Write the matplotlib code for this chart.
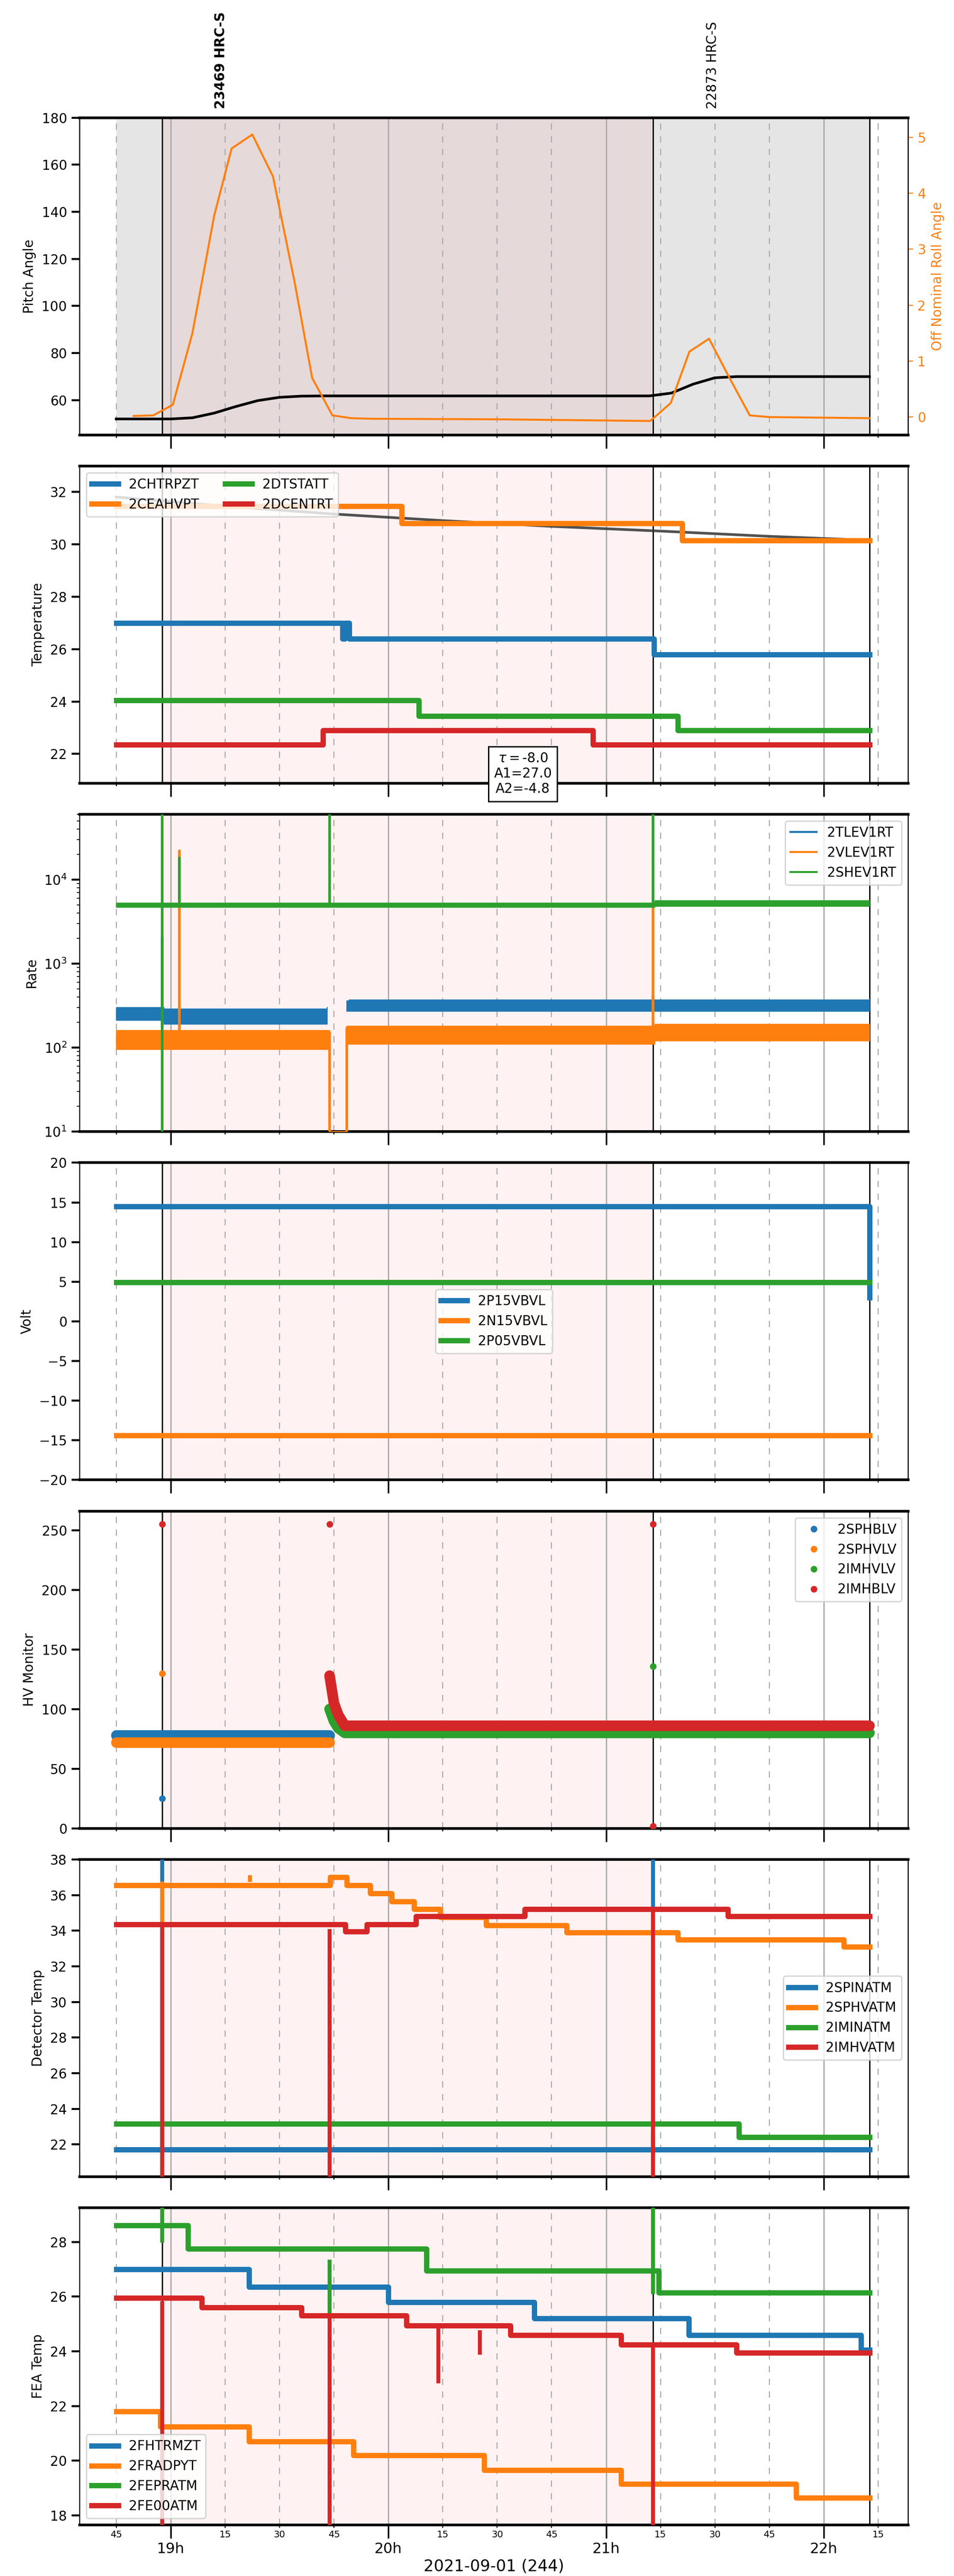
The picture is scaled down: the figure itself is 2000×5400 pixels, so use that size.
import numpy as np
import matplotlib
matplotlib.use("Agg")
import matplotlib.pyplot as plt
from matplotlib.ticker import FixedLocator, FuncFormatter

# times are decimal hours of 2021-09-01
t_start, t_end = 18.75, 22.21
obs_start = [18.962, 21.215]
obs_ids = ["23469 HRC-S", "22873 HRC-S"]
obs_text_x = [19.23, 21.49]
obs_hrc = [18.962, 21.215]          # pink band (HRC science)

# panel 1: pitch / roll
pitch_t = [18.75, 19.0, 19.1, 19.2, 19.3, 19.4, 19.5, 19.6, 19.7, 21.2, 21.3, 21.4, 21.5, 21.6, 22.21]
pitch_v = [52.0, 52.0, 52.5, 54.5, 57.3, 59.8, 61.2, 61.7, 61.8, 61.8, 63.0, 66.8, 69.5, 70.0, 70.0]
roll_t = [18.83, 18.92, 19.01, 19.10, 19.20, 19.28, 19.375, 19.47, 19.57, 19.65, 19.743, 19.83, 19.92,
          20.5, 21.203, 21.297, 21.383, 21.473, 21.567, 21.66, 21.75, 22.21]
roll_v = [0.02, 0.03, 0.22, 1.5, 3.6, 4.8, 5.05, 4.3, 2.4, 0.7, 0.03, -0.02, -0.03,
          -0.04, -0.07, 0.25, 1.17, 1.4, 0.7, 0.03, 0.0, -0.02]

# panel 2: temperatures (step series)
temp_names = ["2CHTRPZT", "2CEAHVPT", "2DTSTATT", "2DCENTRT"]
temp_t = [[18.75, 19.79, 19.80, 19.82, 21.22, 22.21],
          [18.75, 20.06, 21.35, 22.21],
          [18.75, 20.14, 21.33, 22.21],
          [18.75, 19.70, 20.94, 22.21]]
temp_v = [[27.0, 26.4, 27.0, 26.4, 25.8, 25.8],
          [31.45, 30.8, 30.15, 30.15],
          [24.05, 23.45, 22.9, 22.9],
          [22.35, 22.9, 22.35, 22.35]]
model_t = [18.75, 19.25, 19.75, 20.25, 20.75, 21.25, 21.75, 22.21]
model_v = [31.8, 31.45, 31.15, 30.9, 30.68, 30.5, 30.3, 30.15]

# panel 3: rates (level bands low/high)
rate_names = ["2TLEV1RT", "2VLEV1RT", "2SHEV1RT"]
rate_t = [18.75, 18.96, 18.97, 19.72, 19.73, 19.81, 19.82, 21.215, 21.225, 22.21]
rate_lo = [[210, 210, 190, 190, np.nan, 270, 270, 270, 270, 280],
           [95, 95, 95, 95, 10, 110, 110, 110, 120, 125],
           [4700, 4700, 4700, 4700, 4700, 4700, 4700, 4700, 4800, 4800]]
rate_hi = [[300, 300, 290, 300, np.nan, 360, 370, 370, 370, 380],
           [160, 160, 160, 160, 10, 180, 180, 180, 190, 190],
           [5300, 5300, 5300, 5300, 5300, 5300, 5300, 5300, 5600, 5600]]
rate_spk_t = [[18.962, 21.215], [19.04, 19.73, 19.81, 21.215], [18.962, 19.04, 19.73, 21.215]]
rate_spk_v = [[2000, 400], [22000, 10, 10, 5000], [60000, 18000, 60000, 60000]]
rate_spk_lo = [[180, 300], [100, 150, 170, 140], [10, 4900, 4900, 4900]]

# panel 4: voltages
volt_names = ["2P15VBVL", "2N15VBVL", "2P05VBVL"]
volt_t = [[18.75, 22.20, 22.21], [18.75, 22.21], [18.75, 22.21]]
volt_v = [[14.5, 14.5, 3.0], [-14.4, -14.4], [4.9, 4.9]]

# panel 5: HV monitor
hv_names = ["2SPHBLV", "2SPHVLV", "2IMHVLV", "2IMHBLV"]
hv_t = [[18.75, 19.73], [18.75, 19.73],
        [19.73, 19.75, 19.77, 19.80, 22.21], [19.73, 19.75, 19.77, 19.80, 22.21]]
hv_v = [[78, 78], [72, 72], [100, 90, 84, 80, 80], [128, 105, 95, 86, 86]]
hv_spk_t = [[18.962], [18.962], [21.215], [18.962, 19.73, 21.215, 21.215]]
hv_spk_v = [[25], [130], [136], [255, 255, 255, 2]]

# panel 6: detector temps
det_names = ["2SPINATM", "2SPHVATM", "2IMINATM", "2IMHVATM"]
det_t = [[18.75, 22.21],
         [18.75, 19.733, 19.81, 19.916, 20.014, 20.118, 20.239, 20.449, 20.82, 21.329, 22.093, 22.21],
         [18.75, 21.61, 22.21],
         [18.75, 19.803, 19.9, 20.126, 20.626, 21.56, 22.21]]
det_v = [[21.7, 21.7],
         [36.55, 37.0, 36.55, 36.1, 35.65, 35.2, 34.75, 34.3, 33.9, 33.5, 33.1, 33.1],
         [23.15, 22.4, 22.4],
         [34.35, 33.95, 34.35, 34.8, 35.2, 34.8, 34.8]]
det_spk = {0: [(18.962, 40), (21.215, 40)], 1: [(18.962, 34.4), (19.365, 37.0)],
           2: [(18.962, 19), (21.215, 19)], 3: [(18.962, 19), (19.73, 19), (21.215, 19)]}

# panel 7: FEA temps
fea_names = ["2FHTRMZT", "2FRADPYT", "2FEPRATM", "2FE00ATM"]
fea_t = [[18.75, 19.36, 20.0, 20.67, 21.38, 22.17, 22.21],
         [18.75, 18.952, 19.36, 19.84, 20.44, 21.07, 21.874, 22.21],
         [18.75, 19.08, 20.174, 21.242, 22.21],
         [18.75, 19.143, 19.60, 20.084, 20.56, 21.07, 21.60, 22.21]]
fea_v = [[27.0, 26.35, 25.8, 25.2, 24.6, 24.05, 24.05],
         [21.8, 21.25, 20.7, 20.2, 19.65, 19.15, 18.65, 18.65],
         [28.6, 27.75, 26.95, 26.15, 26.15],
         [25.95, 25.6, 25.3, 24.95, 24.6, 24.25, 23.95, 23.95]]
fea_spk = {2: [(18.962, 30), (19.73, 25.4), (21.215, 30)],
           3: [(18.962, 17), (19.73, 17), (21.215, 17), (20.23, 22.9), (20.42, 23.95)]}

C = ["#1f77b4", "#ff7f0e", "#2ca02c", "#d62728"]

fig, axes = plt.subplots(7, 1, figsize=(10, 27), dpi=200, sharex=True)
fig.subplots_adjust(left=0.0835, right=0.952, top=0.9543, bottom=0.0198, hspace=0.098)

major = [19, 20, 21, 22]
minor = [18.75, 19.25, 19.5, 19.75, 20.25, 20.5, 20.75, 21.25, 21.5, 21.75, 22.25]

for i, ax in enumerate(axes):
    ax.set_xlim(18.582, 22.388)
    ax.axvspan(obs_hrc[0], obs_hrc[1], color="red", alpha=0.05, lw=0, zorder=0)
    if i == 0:
        ax.axvspan(t_start, t_end, color="#e5e5e5", lw=0, zorder=0)
        ax.axvspan(obs_hrc[0], obs_hrc[1], color="#e6d9d9", lw=0, zorder=0)
    for x in major:
        ax.axvline(x, color="#aaaaaa", lw=1, zorder=0.5)
    for x in minor:
        ax.axvline(x, color="#aaaaaa", lw=0.8, ls=(0, (6, 6)), zorder=0.5)
    for x in obs_start + [t_end]:
        ax.axvline(x, color="black", lw=1, zorder=3)
    ax.xaxis.set_major_locator(FixedLocator(major))
    ax.xaxis.set_minor_locator(FixedLocator(minor))
    ax.tick_params(axis="x", which="major", length=10, width=1.2)
    ax.tick_params(axis="x", which="minor", length=2, width=0.8)
    ax.tick_params(axis="y", which="major", length=6, width=1.5)
    for s in ["top", "bottom"]:
        ax.spines[s].set_linewidth(2)

axes[-1].xaxis.set_major_formatter(FuncFormatter(lambda x, p: "%dh" % round(x)))
axes[-1].xaxis.set_minor_formatter(FuncFormatter(lambda x, p: "%02d" % round((x % 1) * 60)))
axes[-1].tick_params(axis="x", which="major", pad=3, labelsize=11)
axes[-1].tick_params(axis="x", which="minor", pad=2, labelsize=7)
axes[-1].set_xlabel("2021-09-01 (244)", fontsize=12, labelpad=2)

# panel 1
ax = axes[0]
ax.plot(pitch_t, pitch_v, color="black", lw=2, zorder=4)
ax.set_ylim(45.2, 180)
ax.set_ylabel("Pitch Angle", fontsize=10)
ax2 = ax.twinx()
ax2.plot(roll_t, roll_v, color=C[1], lw=1.5)
ax2.set_ylim(-0.32, 5.35)
ax2.set_ylabel("Off Nominal Roll Angle", color=C[1], fontsize=10)
ax2.tick_params(axis="y", colors=C[1])
for x, s, w in zip(obs_text_x, obs_ids, ["bold", "normal"]):
    ax.text(x, 1.028, s, transform=ax.get_xaxis_transform(), rotation=90,
            ha="center", va="bottom", fontsize=10, fontweight=w)

# panel 2
ax = axes[1]
ax.plot(model_t, model_v, color="#333333", lw=2, alpha=0.85, zorder=3)
for k in range(4):
    ax.step(temp_t[k], temp_v[k], where="post", color=C[k], lw=4, label=temp_names[k], zorder=4)
ax.set_ylim(20.88, 32.98)
ax.set_ylabel("Temperature", fontsize=10)
ax.legend(loc="upper left", ncol=2, fontsize=10, handlelength=2)
ax.text(0.535, 0.03, "$\\tau=$-8.0\nA1=27.0\nA2=-4.8", transform=ax.transAxes, fontsize=10,
        va="center", ha="center", bbox=dict(facecolor="white", edgecolor="black"), zorder=6)

# panel 3
ax = axes[2]
for k in range(3):
    ax.fill_between(rate_t, rate_lo[k], rate_hi[k], step="post", color=C[k], lw=0.6, zorder=3)
    ax.plot([], [], color=C[k], lw=1.5, label=rate_names[k])
    for x, v, lo in zip(rate_spk_t[k], rate_spk_v[k], rate_spk_lo[k]):
        ax.plot([x, x], [lo, v], color=C[k], lw=2, zorder=3)
ax.set_yscale("log")
ax.set_ylim(10, 6e4)
ax.set_ylabel("Rate", fontsize=10)
ax.legend(loc="upper right", fontsize=10)

# panel 4
ax = axes[3]
for k in range(3):
    ax.step(volt_t[k], volt_v[k], where="post", color=C[k], lw=4, label=volt_names[k], zorder=4)
ax.set_ylim(-20, 20)
ax.set_yticks(range(-20, 21, 5))
ax.set_ylabel("Volt", fontsize=10)
ax.legend(loc="center", fontsize=10)

# panel 5
ax = axes[4]
for k in range(4):
    ax.plot(hv_t[k], hv_v[k], color=C[k], lw=8, solid_capstyle="round", zorder=4)
    ax.plot(hv_spk_t[k], hv_spk_v[k], "o", color=C[k], ms=4, label=hv_names[k], zorder=5)
ax.set_ylim(0, 266)
ax.set_ylabel("HV Monitor", fontsize=10)
ax.legend(loc="upper right", fontsize=10)

# panel 6
ax = axes[5]
for k in range(4):
    ax.step(det_t[k], det_v[k], where="post", color=C[k], lw=4, label=det_names[k], zorder=4)
    base = np.interp([s[0] for s in det_spk[k]], det_t[k], det_v[k])
    for (x, v), b in zip(det_spk[k], base):
        ax.plot([x, x], [b, v], color=C[k], lw=3, zorder=4)
ax.set_ylim(20.19, 38.0)
ax.set_yticks(range(22, 39, 2))
ax.set_ylabel("Detector Temp", fontsize=10)
ax.legend(loc="center right", fontsize=10)

# panel 7
ax = axes[6]
for k in range(4):
    ax.step(fea_t[k], fea_v[k], where="post", color=C[k], lw=4, label=fea_names[k], zorder=4)
    for x, v in fea_spk.get(k, []):
        b = np.interp(x, fea_t[k], fea_v[k])
        ax.plot([x, x], [b, v], color=C[k], lw=3, zorder=4)
ax.set_ylim(17.65, 29.25)
ax.set_yticks(range(18, 30, 2))
ax.set_ylabel("FEA Temp", fontsize=10)
ax.legend(loc="lower left", fontsize=10)

fig.savefig("out.png", dpi=200)
